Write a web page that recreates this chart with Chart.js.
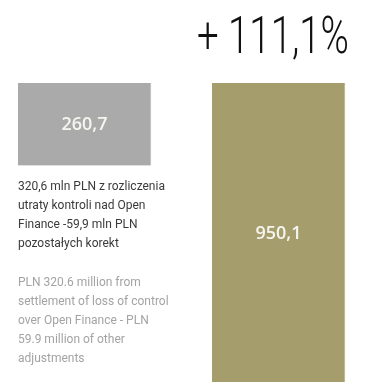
<!DOCTYPE html>
<html lang="pl">
<head>
<meta charset="utf-8">
<title>Wynik netto</title>
<script src="https://cdn.jsdelivr.net/npm/chart.js@4/dist/chart.umd.min.js"></script>
<style>
  html, body { margin: 0; padding: 0; background: #fff; overflow: hidden; }
  .wrap { position: relative; width: 369px; height: 382px; }
</style>
</head>
<body>
<div class="wrap"><canvas id="chart"></canvas></div>
<script>
// dane
const categories = ['Okres poprzedni', 'Okres bieżący'];
const values = [260.7, 950.1];
const barColors = ['#aaaaaa', '#a59d6c'];
const edgeColors = ['#cfcfcf', '#cdc8a6'];
const changeLabel = '+ 111,1%';
const notePl = [
  '320,6 mln PLN z rozliczenia',
  'utraty kontroli nad Open',
  'Finance -59,9 mln PLN',
  'pozostałych korekt'
];
const noteEn = [
  'PLN 320.6 million from',
  'settlement of loss of control',
  'over Open Finance - PLN',
  '59.9 million of other',
  'adjustments'
];

const formatValue = v => v.toFixed(1).replace('.', ',');

// etykiety wartości w środku słupków
const valueLabels = {
  id: 'valueLabels',
  afterDatasetsDraw(chart) {
    const ctx = chart.ctx;
    const meta = chart.getDatasetMeta(0);
    ctx.save();
    ctx.fillStyle = '#f6f5f0';
    ctx.font = '600 18px "Open Sans", Lato, sans-serif';
    ctx.textAlign = 'center';
    ctx.textBaseline = 'middle';
    meta.data.forEach((bar, i) => {
      const cy = (bar.y + bar.base) / 2;
      ctx.fillText(formatValue(values[i]), bar.x, cy + 1);
    });
    ctx.restore();
  }
};

// nagłówek ze zmianą oraz opis pod szarym słupkiem
const annotations = {
  id: 'annotations',
  afterDraw(chart) {
    const ctx = chart.ctx;
    const meta = chart.getDatasetMeta(0);
    const left = meta.data[0];

    ctx.save();
    ctx.fillStyle = '#111';
    ctx.font = '300 52px Roboto, sans-serif';
    ctx.textBaseline = 'alphabetic';
    const w = ctx.measureText(changeLabel).width;
    const targetW = 152;
    ctx.translate(197, 53);
    ctx.scale(targetW / w, 1);
    ctx.fillText(changeLabel, 0, 0);
    ctx.restore();

    ctx.save();
    const x0 = left.x - left.width / 2;
    ctx.font = '12px Roboto, sans-serif';
    ctx.textBaseline = 'middle';
    ctx.textAlign = 'left';
    ctx.fillStyle = '#3a3a3a';
    notePl.forEach((line, i) => ctx.fillText(line, x0, 187 + i * 19.1));
    ctx.fillStyle = '#a3a3a3';
    noteEn.forEach((line, i) => ctx.fillText(line, x0, 283 + i * 19.1));
    ctx.restore();
  }
};

new Chart(document.getElementById('chart'), {
  type: 'bar',
  data: {
    labels: categories,
    datasets: [{
      data: values,
      backgroundColor: barColors,
      borderColor: edgeColors,
      borderWidth: { top: 0, left: 0, bottom: 0, right: 1 },
      borderSkipped: false,
      barThickness: 133,
      clip: false
    }]
  },
  options: {
    responsive: true,
    maintainAspectRatio: false,
    animation: false,
    layout: { padding: { top: 83, left: 84.5, right: 90.5, bottom: 0 } },
    plugins: {
      legend: { display: false },
      tooltip: { enabled: false },
      title: { display: false }
    },
    scales: {
      x: { type: 'category', offset: false, display: false, grid: { display: false } },
      y: { reverse: true, min: 0, max: 945, display: false, grid: { display: false } }
    }
  },
  plugins: [valueLabels, annotations]
});
</script>
</body>
</html>
